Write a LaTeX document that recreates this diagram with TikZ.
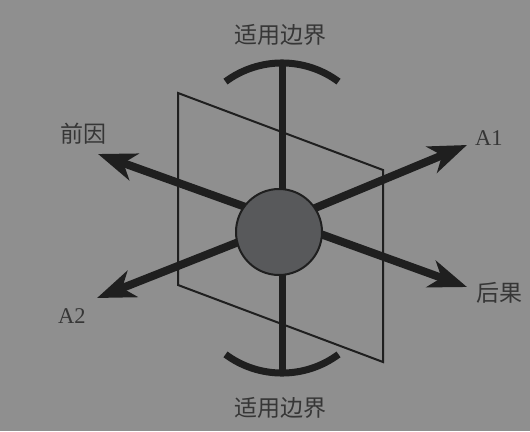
\documentclass[tikz,border=0pt]{standalone}
\usepackage{fontspec}
\setmainfont{Liberation Serif}
\newfontfamily\cjk{Noto Sans CJK SC}
\usetikzlibrary{arrows.meta}
\definecolor{bg}{HTML}{8F8F8F}
\definecolor{ink}{HTML}{1F1F1F}
\definecolor{ballfill}{HTML}{58595B}
\definecolor{txt}{HTML}{363636}
\tikzset{
  plane/.style={draw=ink, line width=2pt, line join=miter},
  axisline/.style={draw=ink, line width=7pt},
  arrowline/.style={draw=ink, line width=8pt, -{Stealth[length=38pt,width=28pt,inset=11pt]}},
  ball/.style={circle, draw=ink, line width=2pt, fill=ballfill, minimum size=86pt, inner sep=0pt},
  cjklabel/.style={text=txt, font=\cjk\fontsize{23}{26}\selectfont, inner sep=0pt},
  latlabel/.style={text=txt, font=\fontsize{22.5}{26}\selectfont, inner sep=0pt}
}
\begin{document}
\begin{tikzpicture}[x=1pt,y=-1pt]
\fill[bg] (0,0) rectangle (530,431);
\useasboundingbox (0,0) rectangle (530,431);
% plane
\coordinate (p1) at (178,93);
\coordinate (p2) at (383,170);
\coordinate (p3) at (383,362);
\coordinate (p4) at (178,285);
\draw[plane] (p1) -- (p2) -- (p3) -- (p4) -- cycle;
% vertical axis with arcs
\coordinate (vt) at (282,63);
\coordinate (vb) at (282,373);
\draw[axisline] (vt) -- (vb);
\coordinate (ta) at (225.5,81.6);
\coordinate (ba) at (225.5,354.4);
\draw[axisline] (ta) arc[start angle=-126.5, end angle=-53.5, radius=95];
\draw[axisline] (ba) arc[start angle=126.5, end angle=53.5, radius=95];
% arrows
\coordinate (s1) at (279,219);
\coordinate (s2) at (279,223);
\coordinate (s3) at (279,226);
\coordinate (tq) at (98,154);
\coordinate (th) at (467,287);
\coordinate (ta1) at (467,145);
\coordinate (ta2) at (97,298);
\draw[arrowline] (s1) -- (tq);
\draw[arrowline] (s1) -- (th);
\draw[arrowline] (s2) -- (ta1);
\draw[arrowline] (s3) -- (ta2);
% central ball
\node[ball] (center) at (279,232) {};
% labels
\node[cjklabel] (topl) at (280,35) {适用边界};
\node[cjklabel] (botl) at (280,407.5) {适用边界};
\node[cjklabel] (qy) at (83.5,134) {前因};
\node[cjklabel] (hg) at (499,293) {后果};
\node[latlabel, anchor=base west] (a1) at (475,145) {A1};
\node[latlabel, anchor=base west] (a2) at (58,323) {A2};
\end{tikzpicture}
\end{document}
